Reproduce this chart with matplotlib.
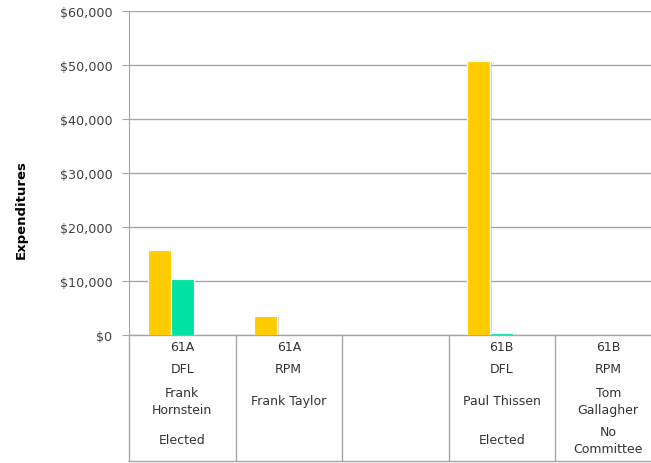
import matplotlib.pyplot as plt
import matplotlib.transforms as mtransforms
import matplotlib.patheffects as pe
import numpy as np

# candidate columns
districts = ['61A', '61A', '', '61B', '61B']
parties = ['DFL', 'RPM', '', 'DFL', 'RPM']
names = ['Frank\nHornstein', 'Frank Taylor', '', 'Paul Thissen', 'Tom\nGallagher']
status = ['Elected', '', '', 'Elected', 'No\nCommittee']

# expenditures by series
series_a = [15750, 3600, 0, 50800, 0]
series_b = [10350, 0, 0, 300, 0]

yticks = [0, 10000, 20000, 30000, 40000, 50000, 60000]
ytick_labels = ['$0', '$10,000', '$20,000', '$30,000', '$40,000', '$50,000', '$60,000']

W, H = 651, 464
fig = plt.figure(figsize=(W / 100, H / 100), dpi=100)
ax = fig.add_axes([129 / W, 128 / H, 532.5 / W, 324 / H])

x = np.arange(len(districts))
bw = 0.216
shadow = [pe.SimplePatchShadow(offset=(1.2, -1.2), shadow_rgbFace='#888888', alpha=0.35), pe.Normal()]
b1 = ax.bar(x - bw, series_a, bw, color='#FFCC00', edgecolor='white', linewidth=0.8, zorder=3)
b2 = ax.bar(x, series_b, bw, color='#00E3A4', edgecolor='white', linewidth=0.8, zorder=3)
for p in list(b1) + list(b2):
    p.set_path_effects(shadow)

ax.set_xlim(-0.5, len(districts) - 0.5)
ax.set_ylim(0, 60000)
ax.set_yticks(yticks)
ax.set_yticklabels(ytick_labels, fontsize=9.2, color='#404040')
ax.yaxis.grid(True, color='#A6A6A6', linewidth=1)
ax.set_axisbelow(True)
ax.tick_params(axis='y', length=5, color='#A6A6A6', pad=7)
ax.set_xticks([])
for s in ['top', 'right', 'bottom']:
    ax.spines[s].set_visible(False)
ax.spines['left'].set_color('#A6A6A6')

ax.set_ylabel('Expenditures', fontsize=9.5, fontweight='bold')
ax.yaxis.set_label_coords(-0.19, 0.39)

# table under the axis
trans = mtransforms.blended_transform_factory(ax.transData, ax.transAxes)
bottom = (336 - 462) / 324
for b in np.arange(-0.5, len(districts), 1.0):
    ax.plot([b, b], [0, bottom], transform=trans, color='#A6A6A6', lw=1, clip_on=False)
ax.plot([-0.5, len(districts) - 0.5], [bottom, bottom], transform=trans, color='#A6A6A6', lw=1, clip_on=False)
ax.plot([-0.5, len(districts) - 0.5], [0, 0], transform=trans, color='#A6A6A6', lw=1, clip_on=False)

rows = [(districts, 348), (parties, 370), (names, 402), (status, 441)]
for labels, ypix in rows:
    for i, lab in enumerate(labels):
        if lab:
            ax.text(i, (336 - ypix) / 324, lab, transform=trans, ha='center', va='center',
                    fontsize=9, color='#333333', linespacing=1.45, clip_on=False)

fig.savefig('out.png', dpi=100)
